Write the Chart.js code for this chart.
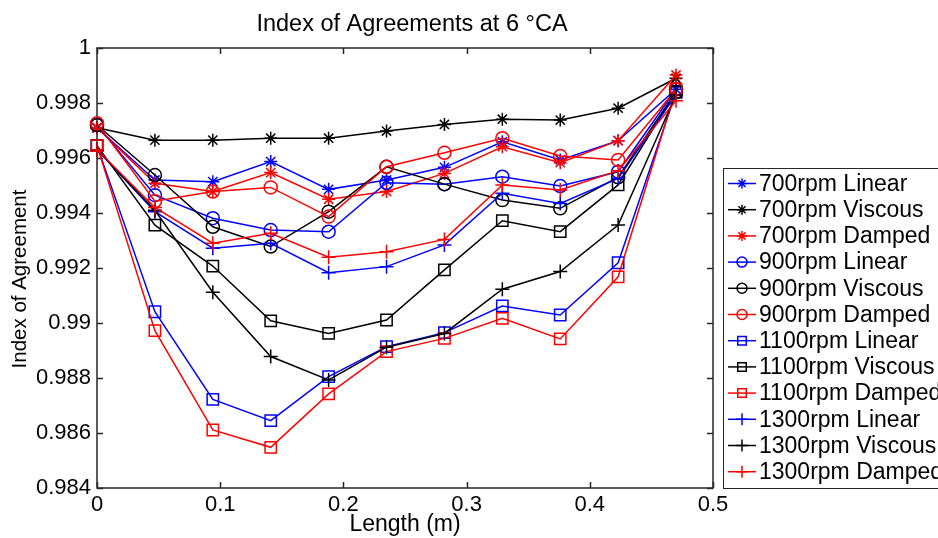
<!DOCTYPE html>
<html>
<head>
<meta charset="utf-8">
<script src="https://cdn.jsdelivr.net/npm/chart.js@4.4.0/dist/chart.umd.min.js"></script>
<style>
  html,body{margin:0;padding:0;background:#fff;overflow:hidden;}
  canvas{display:block;}
</style>
</head>
<body>
<canvas id="chart" width="938" height="538"></canvas>
<script>
// measurement positions along the pipe (m)
const lengths = [0, 0.047, 0.094, 0.141, 0.188, 0.235, 0.282, 0.329, 0.376, 0.423, 0.47];

const rpm700Linear   = [0.9971, 0.9952, 0.99514, 0.99587, 0.99486, 0.9952, 0.99566, 0.99659, 0.99593, 0.99663, 0.9985];
const rpm700Viscous  = [0.9971, 0.99665, 0.99665, 0.99672, 0.99672, 0.99698, 0.99722, 0.99741, 0.99738, 0.99781, 0.9989];
const rpm700Damped   = [0.9971, 0.99508, 0.99478, 0.99547, 0.9945, 0.99478, 0.99544, 0.99641, 0.99583, 0.99663, 0.99902];
const rpm900Linear   = [0.9972, 0.99465, 0.99381, 0.99338, 0.99332, 0.9951, 0.99505, 0.99532, 0.99498, 0.9955, 0.9985];
const rpm900Viscous  = [0.9972, 0.99538, 0.9935, 0.99278, 0.99405, 0.99568, 0.99505, 0.99447, 0.99417, 0.9953, 0.9984];
const rpm900Damped   = [0.99726, 0.99443, 0.99478, 0.99493, 0.99387, 0.99568, 0.99619, 0.99672, 0.99607, 0.99593, 0.9985];
const rpm1100Linear  = [0.99645, 0.99041, 0.98722, 0.98645, 0.98805, 0.98914, 0.98965, 0.99062, 0.99029, 0.99219, 0.9984];
const rpm1100Viscous = [0.99645, 0.99356, 0.99207, 0.99008, 0.98962, 0.99011, 0.99193, 0.99372, 0.99332, 0.99502, 0.9984];
const rpm1100Damped  = [0.99645, 0.98972, 0.98611, 0.98548, 0.98742, 0.98896, 0.98944, 0.99017, 0.98942, 0.99168, 0.9985];
const rpm1300Linear  = [0.9963, 0.99405, 0.99272, 0.9929, 0.99183, 0.99205, 0.99284, 0.99472, 0.99435, 0.99526, 0.9983];
const rpm1300Viscous = [0.9963, 0.9941, 0.99112, 0.98878, 0.98793, 0.98912, 0.98962, 0.99123, 0.99187, 0.99356, 0.9983];
const rpm1300Damped  = [0.9963, 0.9942, 0.9929, 0.99326, 0.99239, 0.99259, 0.99304, 0.99502, 0.99484, 0.99554, 0.99808];

const seriesNames = ['700rpm Linear','700rpm Viscous','700rpm Damped','900rpm Linear','900rpm Viscous','900rpm Damped',
  '1100rpm Linear','1100rpm Viscous','1100rpm Damped','1300rpm Linear','1300rpm Viscous','1300rpm Damped'];
const seriesValues = [rpm700Linear, rpm700Viscous, rpm700Damped, rpm900Linear, rpm900Viscous, rpm900Damped,
  rpm1100Linear, rpm1100Viscous, rpm1100Damped, rpm1300Linear, rpm1300Viscous, rpm1300Damped];

const colors = {'Linear':'#0000ff','Viscous':'#000000','Damped':'#ff0000'};
const markers = {'700':'star','900':'circle','1100':'rect','1300':'cross'};
const markerSize = {'star':6.5,'circle':6.5,'rect':8,'cross':7};
const legendSize = {'star':5,'circle':5,'rect':6,'cross':6};

const FONT = "'Liberation Sans', Arial, Helvetica, sans-serif";

const datasets = seriesNames.map((name, i) => {
  const [rpm, model] = name.split('rpm ');
  const style = markers[rpm];
  return {
    label: name,
    data: lengths.map((x, j) => ({x: x, y: seriesValues[i][j]})),
    borderColor: colors[model],
    borderWidth: 1.5,
    pointStyle: style,
    pointRadius: markerSize[style],
    pointBorderColor: colors[model],
    pointBackgroundColor: 'rgba(0,0,0,0)',
    pointBorderWidth: 1.5,
    tension: 0,
    fill: false,
    clip: false,
    order: -i
  };
});

// title, y label, inward ticks, axes box and legend in MATLAB style
const matlabFrame = {
  id: 'matlabFrame',
  beforeDatasetsDraw(chart){
    const {ctx, chartArea: a, scales} = chart;
    ctx.save();
    ctx.strokeStyle = '#262626';
    ctx.lineWidth = 1.5;
    ctx.strokeRect(a.left, a.top, a.right - a.left, a.bottom - a.top);
    ctx.beginPath();
    scales.x.ticks.forEach(t => {
      const px = Math.round(scales.x.getPixelForValue(t.value)) + 0.5;
      ctx.moveTo(px, a.bottom); ctx.lineTo(px, a.bottom - 6);
      ctx.moveTo(px, a.top); ctx.lineTo(px, a.top + 6);
    });
    scales.y.ticks.forEach(t => {
      const py = Math.round(scales.y.getPixelForValue(t.value)) + 0.5;
      ctx.moveTo(a.left, py); ctx.lineTo(a.left + 6, py);
      ctx.moveTo(a.right, py); ctx.lineTo(a.right - 6, py);
    });
    ctx.stroke();
    ctx.restore();
  },
  afterDraw(chart){
    const {ctx} = chart;
    ctx.save();
    ctx.fillStyle = '#000';
    ctx.font = '23.5px ' + FONT;
    ctx.textAlign = 'center';
    ctx.textBaseline = 'alphabetic';
    ctx.fillText('Index of Agreements at 6 °CA', 412, 31);

    ctx.save();
    ctx.translate(20, 279);
    ctx.rotate(-Math.PI / 2);
    ctx.font = '20.5px ' + FONT;
    ctx.textBaseline = 'middle';
    ctx.fillText('Index of Agreement', 0, 0);
    ctx.restore();

    // legend
    const left = 723, top = 168, bottom = 488;
    ctx.fillStyle = '#fff';
    ctx.fillRect(left, top, 938 - left + 5, bottom - top);
    ctx.strokeStyle = '#262626';
    ctx.lineWidth = 1;
    ctx.strokeRect(left + 0.5, top + 0.5, 938 - left + 5, bottom - top);
    chart.data.datasets.forEach((ds, i) => {
      const y = 183.5 + i * 26.2;
      ctx.strokeStyle = ds.borderColor;
      ctx.lineWidth = 1.5;
      ctx.beginPath();
      ctx.moveTo(728, y); ctx.lineTo(756, y);
      ctx.stroke();
      ctx.fillStyle = 'rgba(0,0,0,0)';
      Chart.helpers.drawPoint(ctx, {pointStyle: ds.pointStyle, radius: legendSize[ds.pointStyle], rotation: 0, borderWidth: 1.5}, 742, y);
      ctx.fillStyle = '#000';
      ctx.font = '23px ' + FONT;
      ctx.textAlign = 'left';
      ctx.textBaseline = 'middle';
      ctx.fillText(ds.label, 759, y + 1);
    });
    ctx.restore();
  }
};

new Chart(document.getElementById('chart'), {
  type: 'line',
  data: { datasets: datasets },
  options: {
    responsive: false,
    animation: false,
    layout: { padding: { top: 48, right: 225, left: 0, bottom: 0 } },
    plugins: { legend: { display: false }, tooltip: { enabled: false }, title: { display: false } },
    scales: {
      x: {
        type: 'linear', min: 0, max: 0.5,
        grid: { display: false, drawTicks: false },
        border: { display: false },
        ticks: { stepSize: 0.1, padding: 4, color: '#000', font: { family: FONT, size: 22 },
          callback: v => String(+v.toFixed(1)) },
        title: { display: true, text: 'Length (m)', color: '#000', font: { family: FONT, size: 23 }, padding: { top: 0, bottom: 0 } },
        afterFit: s => { s.height = 50; }
      },
      y: {
        min: 0.984, max: 1,
        grid: { display: false, drawTicks: false },
        border: { display: false },
        ticks: { stepSize: 0.002, padding: 6, color: '#000', font: { family: FONT, size: 22 },
          callback: v => String(+v.toFixed(3)) },
        afterFit: s => { s.width = 97; }
      }
    }
  },
  plugins: [matlabFrame]
});
</script>
</body>
</html>
